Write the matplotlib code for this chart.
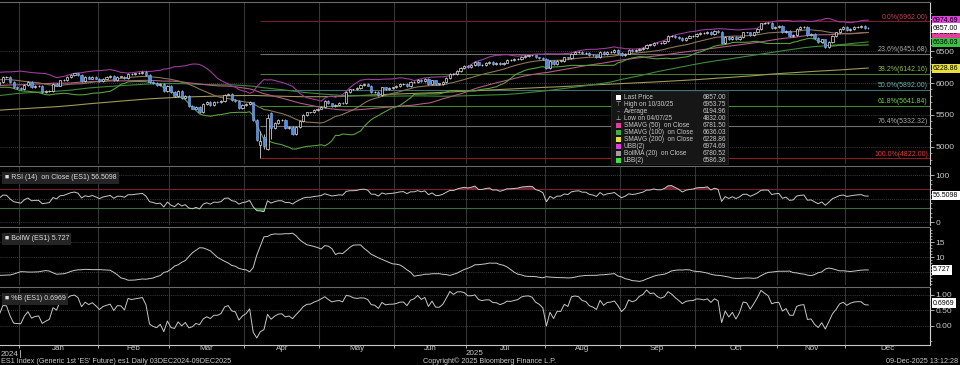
import numpy as np
import pandas as pd
import matplotlib
matplotlib.use("Agg")
import matplotlib.pyplot as plt
import matplotlib.transforms as mtrans
from matplotlib.patches import Rectangle

plt.rcParams['font.family'] = ['Liberation Sans', 'DejaVu Sans']

# ES1 daily closes, month by month
dec24 = [6060, 6100, 6090, 6100, 6060, 6040, 6090, 6060, 6110, 6130, 6100, 5910, 5900, 5980,
         6020, 6090, 6090, 6010, 5940, 5920]
jan25 = [5900, 5970, 6010, 5940, 5950, 5950, 5860, 5870, 5880, 5990, 5960, 6040, 6050, 6090,
         6130, 6150, 6130, 6030, 6090, 6070, 6100, 6070]
feb25 = [6030, 6070, 6090, 6110, 6050, 6100, 6100, 6080, 6140, 6140, 6150, 6160, 6170, 6130,
         6020, 6000, 5970, 5980, 5870, 5960]
mar25 = [5860, 5800, 5870, 5770, 5800, 5640, 5600, 5630, 5550, 5670, 5710, 5650, 5710, 5700,
         5720, 5820, 5830, 5740, 5720, 5610, 5650]
apr25 = [5670, 5710, 5420, 5110, 5090, 5010, 5460, 5290, 5370, 5420, 5420, 5300, 5310, 5200,
         5310, 5400, 5500, 5540, 5540, 5580, 5600]
may25 = [5630, 5720, 5680, 5640, 5660, 5690, 5680, 5860, 5900, 5900, 5920, 5970, 5980, 5960,
         5860, 5860, 5810, 5930, 5900, 5920, 5930]
jun25 = [5950, 5980, 5990, 5950, 6010, 6010, 6050, 6030, 6060, 5990, 6040, 5990, 5990, 6020,
         6080, 6140, 6140, 6190, 6230, 6260]
jul25 = [6250, 6280, 6330, 6280, 6280, 6310, 6330, 6300, 6310, 6290, 6320, 6360, 6360, 6370,
         6380, 6410, 6420, 6430, 6430, 6400, 6390, 6370]
aug25 = [6240, 6340, 6300, 6350, 6350, 6400, 6390, 6460, 6480, 6490, 6470, 6470, 6440, 6430,
         6410, 6490, 6450, 6480, 6490, 6510, 6470]
sep25 = [6430, 6460, 6510, 6500, 6510, 6530, 6550, 6600, 6600, 6630, 6620, 6620, 6650, 6730,
         6740, 6720, 6700, 6670, 6710, 6730, 6740]
oct25 = [6770, 6780, 6780, 6800, 6770, 6810, 6800, 6620, 6720, 6680, 6720, 6680, 6720, 6790,
         6790, 6750, 6790, 6840, 6930, 6940, 6940, 6860, 6880]
nov25 = [6890, 6790, 6820, 6740, 6750, 6850, 6870, 6880, 6750, 6760, 6700, 6640, 6680, 6560,
         6640, 6740, 6790, 6850, 6870]
dec25 = [6830, 6850, 6870, 6880, 6890, 6860, 6857]

# weekly closes before the window, only used to warm up the long averages
pre_weekly = [5030, 5100, 5150, 5150, 5180, 5290, 5310, 5250, 5170, 5010, 5130, 5140, 5240, 5320,
              5320, 5280, 5360, 5440, 5510, 5500, 5590, 5650, 5560, 5500, 5360, 5370, 5560, 5640,
              5660, 5420, 5640, 5750, 5780, 5790, 5860, 5900, 5840, 5760, 6020, 5890, 5990, 6050]

holidays = ["2024-12-25", "2025-01-01", "2025-04-18", "2025-05-26", "2025-06-19",
            "2025-07-04", "2025-09-01", "2025-11-27"]

# opens / extremes that differ from prev close +- small wick
open_fix = {"2025-04-08": 5150, "2025-04-09": 4970, "2025-04-10": 5530, "2025-04-07": 5030}
hilo_fix = {"2025-04-03": (5600, 5400), "2025-04-04": (5430, 5090), "2025-04-07": (5250, 4832),
            "2025-04-08": (5210, 4970), "2025-04-09": (5510, 4950), "2025-04-10": (5540, 5130),
            "2025-10-30": (6953.75, 6850)}
wick = 14

fib_pct = ["0.0%", "23.6%", "38.2%", "50.0%", "61.8%", "76.4%", "100.0%"]
fib_val = [6962.00, 6451.68, 6142.16, 5892.00, 5641.84, 5332.32, 4822.00]
fib_line = ["#7a1c2c", "#6e6e6e", "#4b7a2c", "#3c7272", "#3f8a2e", "#6e6e6e", "#8c1c24"]
fib_text = ["#c0405a", "#a8a8a8", "#8cc04c", "#62b4b4", "#72cc4c", "#a8a8a8", "#e03a3a"]

legend_names = ["Last Price", "High on 10/30/25", "Average", "Low on 04/07/25",
                "SMAVG (50)  on Close", "SMAVG (100)  on Close", "SMAVG (200)  on Close",
                "UBB(2)", "BollMA (20)  on Close", "LBB(2)"]
legend_vals = ["6857.00", "6953.75", "6194.96", "4832.00", "6781.50", "6636.03", "6228.86",
               "6974.69", "6780.52", "6586.36"]
legend_cols = ["#ffffff", None, None, None, "#e0409c", "#3cb043", "#e8e03c", "#e040e0",
               "#a0a0a0", "#40e040"]

rsi_last, bollw_last, pctb_last = "56.5098", "5.727", "0.6969"
months = ["Jan", "Feb", "Mar", "Apr", "May", "Jun", "Jul", "Aug", "Sep", "Oct", "Nov", "Dec"]

# ---- build series ----
closes = np.array(dec24 + jan25 + feb25 + mar25 + apr25 + may25 + jun25 + jul25 + aug25
                  + sep25 + oct25 + nov25 + dec25, dtype=float)
days = pd.bdate_range("2024-12-03", "2025-12-09")
days = days[~days.isin(pd.to_datetime(holidays))]
n = min(len(days), len(closes))
days, closes = days[:n], closes[:n]
x = np.arange(n)
key = days.strftime("%Y-%m-%d")

opens = np.r_[pre_weekly[-1], closes[:-1]]
for d, v in open_fix.items():
    opens[key == d] = v
highs = np.maximum(opens, closes) + wick
lows = np.minimum(opens, closes) - wick
for d, (h, l) in hilo_fix.items():
    highs[key == d] = h
    lows[key == d] = l

pre = np.repeat(np.array(pre_weekly, dtype=float), 5)
full = pd.Series(np.r_[pre, closes])
k = len(pre)
sma50 = full.rolling(50).mean().values[k:]
sma100 = full.rolling(100).mean().values[k:]
sma200 = full.rolling(200).mean().values[k:]
ma20 = full.rolling(20).mean()
sd20 = full.rolling(20).std(ddof=0)
ubb = (ma20 + 2 * sd20).values[k:]
lbb = (ma20 - 2 * sd20).values[k:]
ma20 = ma20.values[k:]
bollw = (ubb - lbb) / ma20 * 100
pctb = (closes - lbb) / (ubb - lbb)
delta = full.diff()
up_avg = delta.clip(lower=0).ewm(alpha=1 / 14, adjust=False).mean()
dn_avg = (-delta.clip(upper=0)).ewm(alpha=1 / 14, adjust=False).mean()
rsi = (100 - 100 / (1 + up_avg / dn_avg)).values[k:]

# month boundaries / x range
bounds = []
for m in range(1, 13):
    idx = np.argmax((days.year == 2025) & (days.month == m))
    bounds.append(idx - 0.5)
ppd = 826.0 / (bounds[-1] - bounds[0])
xmin = bounds[0] - 19 / ppd
xmax = bounds[-1] + 85 / ppd

# ---- figure ----
W, H = 960, 365
fig = plt.figure(figsize=(9.6, 3.65), dpi=100, facecolor="black")
TXT = "#c8c8c8"
GRID = "#505050"


def panel(top, bot):
    a = fig.add_axes([0, 1 - bot / H, 930 / W, (bot - top) / H])
    a.set_facecolor("black")
    a.set_xlim(xmin, xmax)
    for s in ("left", "bottom"):
        a.spines[s].set_visible(False)
    a.spines["top"].set_color("#6a6a6a")
    a.spines["right"].set_color("#d0d0d0")
    a.spines["right"].set_linewidth(0.8)
    a.yaxis.tick_right()
    a.tick_params(axis="y", colors=TXT, labelsize=6, length=3, width=0.6, pad=1)
    a.tick_params(axis="y", which="minor", colors=TXT, length=1.5, width=0.5)
    a.set_xticks([])
    for b in bounds:
        a.axvline(b, color="#353535", lw=0.8, zorder=0)
    return a


def hgrid(a, vals):
    for v in vals:
        a.axhline(v, color=GRID, lw=0.6, ls=(0, (1, 1.5)), zorder=0)


def tag(a, y, s, fc):
    a.annotate(s, xy=(1, y), xycoords=("axes fraction", "data"), xytext=(2.2, 0),
               textcoords="offset points", va="center", ha="left", fontsize=5, color="black",
               bbox=dict(boxstyle="square,pad=0.18", fc=fc, ec="none"), annotation_clip=False,
               zorder=10)


# main price panel
ax = panel(2, 164)
ax.set_ylim(4734, 7266)
ax.set_yticks([5000, 5500, 6000, 6500, 7000])
ax.set_yticklabels(["5000", "5500", "6000", "6500", ""])
ax.set_yticks(np.arange(4800, 7200, 100), minor=True)
hgrid(ax, [5000, 5500, 6000, 6500])

x_low = x[key == "2025-04-07"][0]
for p, v, lc, tc in zip(fib_pct, fib_val, fib_line, fib_text):
    ax.hlines(v, x_low, xmax, color=lc, lw=0.8, zorder=1)
    ax.text(xmax - 0.6, v + 12, f"{p}({v:.2f})", color=tc, fontsize=5, ha="right",
            va="bottom", zorder=2)

ax.plot(x, sma200, color="#a09a58", lw=0.8, zorder=2)
ax.plot(x, sma100, color="#3e8a3a", lw=0.8, zorder=2)
ax.plot(x, sma50, color="#b05a86", lw=0.8, zorder=2)
ax.plot(x, ma20, color="#8a7658", lw=0.8, zorder=2)
ax.plot(x, ubb, color="#9c3c9c", lw=0.8, zorder=2)
ax.plot(x, lbb, color="#5aa03a", lw=0.8, zorder=2)

rise = closes >= opens
body = np.maximum(np.abs(closes - opens), 4)
ax.vlines(x, lows, highs, color="#d0d0d0", lw=0.6, zorder=4)
ax.bar(x[rise], body[rise], bottom=np.minimum(opens, closes)[rise], width=0.62,
       facecolor="black", edgecolor="#e4e4e4", lw=0.5, zorder=5)
ax.bar(x[~rise], body[~rise], bottom=np.minimum(opens, closes)[~rise], width=0.62,
       facecolor="#4f8ee6", edgecolor="#86b2f0", lw=0.4, zorder=5)

tag(ax, 6781.50, "6781.50", "#e0409c")
tag(ax, 6974.69, "6974.69", "#e040e0")
tag(ax, 6857.00, "6857.00", "#ffffff")
tag(ax, 6636.03, "6636.03", "#3cc043")
tag(ax, 6228.86, "6228.86", "#e8e03c")

# legend box in the price panel
fig.patches.append(Rectangle((611 / W, 1 - 164 / H), 117 / W, 73 / H, transform=fig.transFigure,
                             facecolor="#161616", edgecolor="#2a2a2a", lw=0.5, zorder=8))
marks = [None, "\u22a4", "\u2013", "\u22a5"]
for i, (nm, vv, cc) in enumerate(zip(legend_names, legend_vals, legend_cols)):
    yy = 1 - (97.5 + i * 7.0) / H
    if cc is not None:
        fig.patches.append(Rectangle((616 / W, yy - 2.5 / H), 5 / W, 5 / H,
                                     transform=fig.transFigure, facecolor=cc,
                                     edgecolor="none", zorder=9))
    else:
        fig.text(618.5 / W, yy, marks[i], color=TXT, fontsize=4.5, ha="center", va="center",
                 family="DejaVu Sans", zorder=9)
    fig.text(624 / W, yy, nm, color=TXT, fontsize=4.7, va="center", zorder=9)
    fig.text(726 / W, yy, vv, color=TXT, fontsize=4.7, va="center", ha="right", zorder=9)


def sub_label(a, s, frac):
    a.text(0.005, frac, "\u25a0 " + s, transform=a.transAxes, color="#dcdcdc", fontsize=5,
           va="center", ha="left",
           bbox=dict(boxstyle="square,pad=0.35", fc="#242424", ec="none"), zorder=6)


# RSI
ar = panel(166, 225)
ar.set_ylim(-6.3, 119.2)
ar.set_yticks([0, 50, 100])
ar.set_yticklabels(["0", "", "100"])
ar.set_yticks(np.arange(0, 101, 10), minor=True)
hgrid(ar, [0, 50, 100])
ar.axhline(70, color="#7a2030", lw=0.8, zorder=1)
ar.axhline(30, color="#3c6a3c", lw=0.8, zorder=1)
ar.fill_between(x, 70, rsi, where=rsi > 70, color="#b04050", alpha=0.6, lw=0, interpolate=True)
ar.fill_between(x, 30, rsi, where=rsi < 30, color="#4a9a4a", alpha=0.7, lw=0, interpolate=True)
ar.plot(x, rsi, color="#c8c8c8", lw=0.7, zorder=3)
tag(ar, 56.5098, rsi_last, "#ffffff")
sub_label(ar, "RSI (14)  on Close (ES1) " + rsi_last, 0.80)

# Bollinger width
ab = panel(227, 285)
ab.set_ylim(0.67, 20)
ab.set_yticks([5, 10, 15])
ab.set_yticklabels(["", "10", "15"])
ab.set_yticks(np.arange(1, 20, 1), minor=True)
hgrid(ab, [5, 10, 15])
ab.plot(x, bollw, color="#c8c8c8", lw=0.7, zorder=3)
tag(ab, 5.727, bollw_last, "#ffffff")
sub_label(ab, "BollW (ES1) " + bollw_last, 0.80)

# %B
ap = panel(287, 345)
ap.set_ylim(-0.613, 1.258)
ap.set_yticks([0, 0.5, 1.0])
ap.set_yticklabels(["0.00", "0.50", "1.00"])
ap.set_yticks([-0.5], minor=True)
hgrid(ap, [0, 0.5, 1.0])
ap.plot(x, pctb, color="#c8c8c8", lw=0.7, zorder=3)
tag(ap, 0.74, pctb_last, "#ffffff")
sub_label(ap, "%B (ES1) " + pctb_last, 0.80)
ap.spines["bottom"].set_visible(True)
ap.spines["bottom"].set_color("#c8c8c8")
ap.set_xticks(bounds)
ap.tick_params(axis="x", colors="#c8c8c8", length=2.5, width=0.6, labelbottom=False)

# month / year labels
trans = mtrans.blended_transform_factory(ap.transData, fig.transFigure)
edges = bounds + [xmax]
for i, m in enumerate(months):
    ap.text((edges[i] + edges[i + 1]) / 2, 1 - 349 / H, m, transform=trans, color=TXT,
            fontsize=5.8, ha="center", va="center")
fig.text(1 / W, 1 - 354 / H, "2024", color=TXT, fontsize=5.8, va="center")
ap.text((bounds[0] + xmax) / 2, 1 - 353.5 / H, "2025", transform=trans, color=TXT, fontsize=5.8,
        ha="center", va="center")
fig.add_artist(plt.Line2D([20 / W, 20 / W], [1 - 350 / H, 1 - 357 / H], color="#c8c8c8", lw=0.6))

# footer
fig.text(1 / W, 1 - 361.5 / H, "ES1 Index (Generic 1st 'ES' Future) es1 Daily 03DEC2024-09DEC2025",
         color=TXT, fontsize=5.2, va="center")
fig.text(490 / W, 1 - 361.5 / H, "Copyright\u00a9 2025 Bloomberg Finance L.P.", color=TXT,
         fontsize=5.2, va="center", ha="center")
fig.text(958 / W, 1 - 361.5 / H, "09-Dec-2025 13:12:28", color=TXT, fontsize=5.2, va="center",
         ha="right")

fig.savefig("out.png", dpi=100, facecolor="black")
